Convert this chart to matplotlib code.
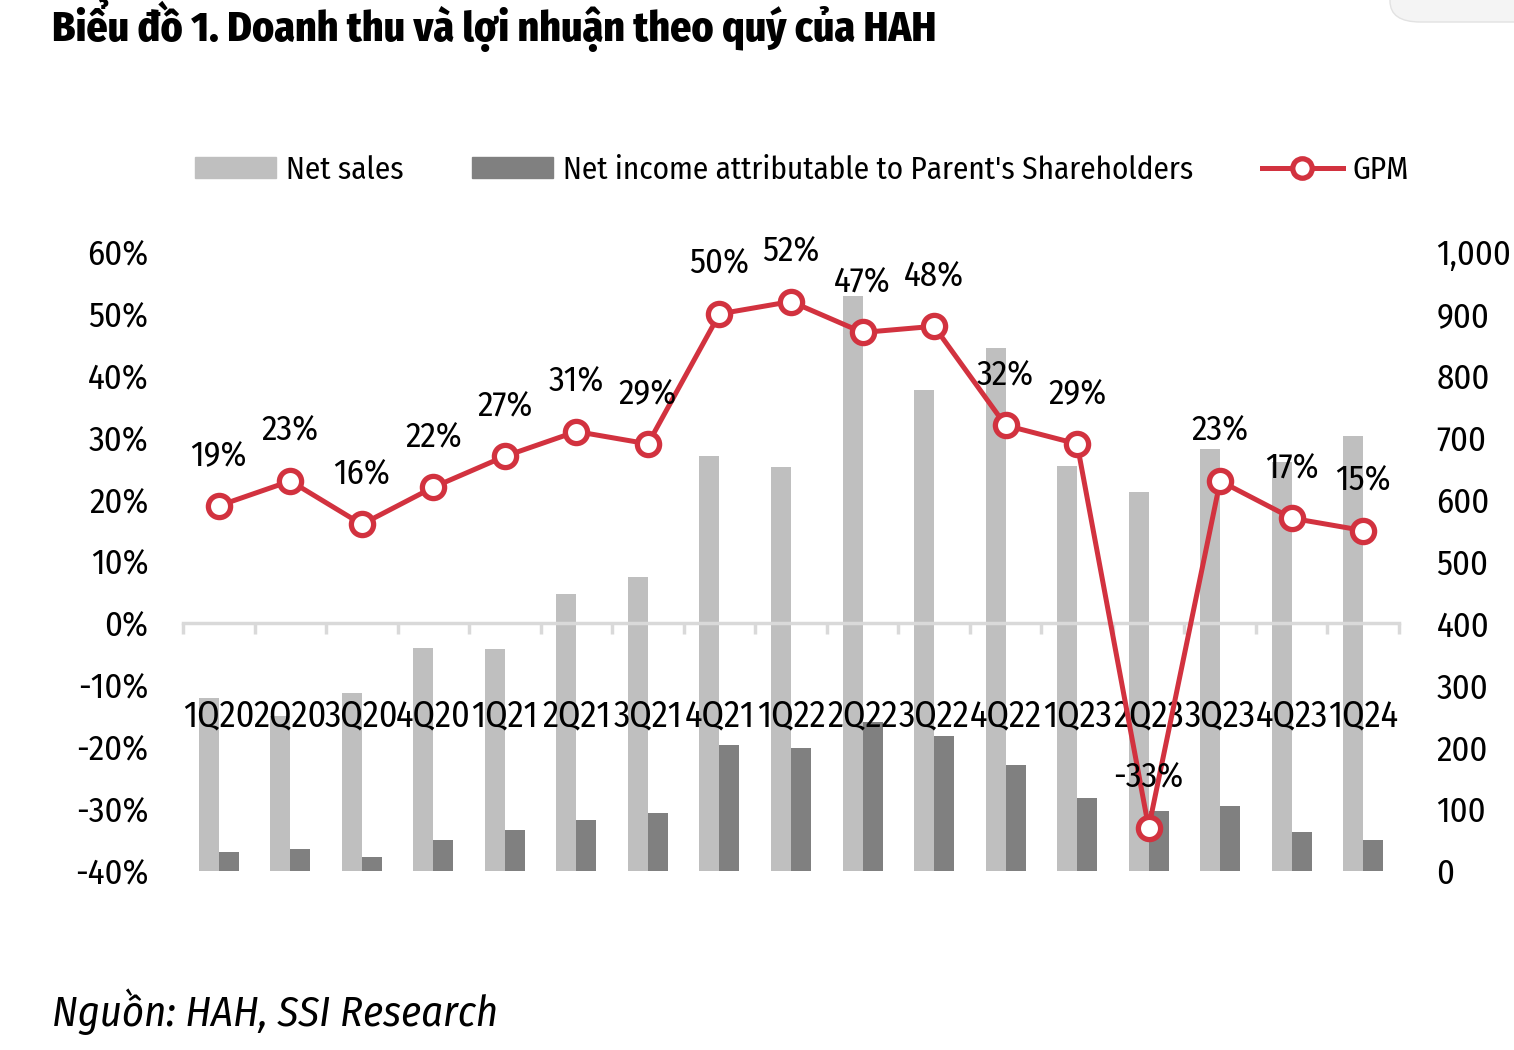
import numpy as np
import matplotlib
matplotlib.use("Agg")
import matplotlib.pyplot as plt
from matplotlib.patches import Patch, FancyBboxPatch
from matplotlib.lines import Line2D
from matplotlib.ticker import FuncFormatter

# data
quarters = ["1Q20", "2Q20", "3Q20", "4Q20", "1Q21", "2Q21", "3Q21", "4Q21", "1Q22",
            "2Q22", "3Q22", "4Q22", "1Q23", "2Q23", "3Q23", "4Q23", "1Q24"]
net_sales = [279, 250, 287, 361, 358, 447, 475, 670, 653, 929, 777, 845, 654, 612, 681, 661, 703]
net_income = [30, 36, 23, 50, 66, 82, 93, 203, 199, 240, 218, 171, 118, 97, 105, 63, 50]
gpm = [19, 23, 16, 22, 27, 31, 29, 50, 52, 47, 48, 32, 29, -33, 23, 17, 15]

FONT = ["Fira Sans Condensed", "Roboto Condensed", "DejaVu Sans"]
plt.rcParams["font.family"] = FONT

light = "#BFBFBF"
dark = "#808080"
red = "#D2323F"
axis_grey = "#D9D9D9"

W, H = 1514, 1050
fig = plt.figure(figsize=(W / 100, H / 100), dpi=100)
ax = fig.add_axes([183 / W, (H - 871) / H, (1399 - 183) / W, (871 - 252) / H])
ax2 = ax.twinx()

x = np.arange(len(quarters))
bw = 0.28
ax.bar(x - bw / 2, net_sales, bw, color=light, label="Net sales")
ax.bar(x + bw / 2, net_income, bw, color=dark,
       label="Net income attributable to Parent's Shareholders")

gpm_lim = (-0.4, 0.6)
ax.set_ylim(0, 1000)
ax.set_xlim(-0.5, len(quarters) - 0.5)
ax2.set_ylim(*gpm_lim)

# right axis: sales values
ax.yaxis.tick_right()
ax.yaxis.set_label_position("right")
ax.set_yticks(np.arange(0, 1001, 100))
ax.yaxis.set_major_formatter(FuncFormatter(lambda v, p: f"{v:,.0f}"))
ax.tick_params(axis="y", length=0, pad=27, labelsize=25)

# left axis: GPM
ax2.yaxis.tick_left()
ax2.yaxis.set_label_position("left")
ax2.set_yticks(np.arange(-0.4, 0.61, 0.1))
ax2.yaxis.set_major_formatter(FuncFormatter(lambda v, p: f"{int(round(v * 100))}%"))
ax2.tick_params(axis="y", length=0, pad=25, labelsize=25)

for a in (ax, ax2):
    for s in a.spines.values():
        s.set_visible(False)

# category axis sits on the 0% line
zero_frac = (0 - gpm_lim[0]) / (gpm_lim[1] - gpm_lim[0])
ax.spines["bottom"].set_visible(True)
ax.spines["bottom"].set_position(("axes", zero_frac))
ax.spines["bottom"].set_color(axis_grey)
ax.spines["bottom"].set_linewidth(2.5)
ax.set_xticks(x)
ax.set_xticklabels(quarters)
ax.set_xticks(np.arange(len(quarters) + 1) - 0.5, minor=True)
ax.tick_params(axis="x", which="major", length=0, pad=54, labelsize=26)
ax.tick_params(axis="x", which="minor", length=8, width=2.5, color=axis_grey, direction="out")

ax2.plot(x, np.array(gpm) / 100, color=red, lw=3.6, marker="o", ms=16,
         mfc="white", mec=red, mew=3.8, label="GPM", clip_on=False)
for i, v in enumerate(gpm):
    ax2.annotate(f"{v}%", (i, v / 100), xytext=(0, 36), textcoords="offset points",
                 ha="center", va="center", fontsize=25)

handles = [Patch(color=light, label="Net sales"),
           Patch(color=dark, label="Net income attributable to Parent's Shareholders"),
           Line2D([], [], color=red, lw=3.6, marker="o", ms=14, mfc="white", mec=red,
                  mew=3.8, label="GPM")]
fig.legend(handles=handles, loc="center left", bbox_to_anchor=(195 / W, 1 - 170 / H),
           ncol=3, frameon=False, fontsize=22.5, handlelength=2.6, handleheight=0.65,
           handletextpad=0.3, columnspacing=2.2, borderpad=0, borderaxespad=0)

fig.text(52 / W, 1 - 25 / H, "Biểu đồ 1. Doanh thu và lợi nhuận theo quý của HAH",
         fontsize=30, fontweight=800, ha="left", va="center")
fig.text(52 / W, 1 - 1012 / H, "Nguồn: HAH, SSI Research", fontsize=30.5,
         style="italic", ha="left", va="center")

# rounded grey tab in the top right corner of the screenshot
fig.patches.append(FancyBboxPatch((1390 / W, 1 - 22 / H), 200 / W, 60 / H,
                                  boxstyle="round,pad=0,rounding_size=0.02",
                                  transform=fig.transFigure, facecolor="#F4F4F4",
                                  edgecolor="#E2E2E2", lw=1))

fig.savefig("out.png", dpi=100)
